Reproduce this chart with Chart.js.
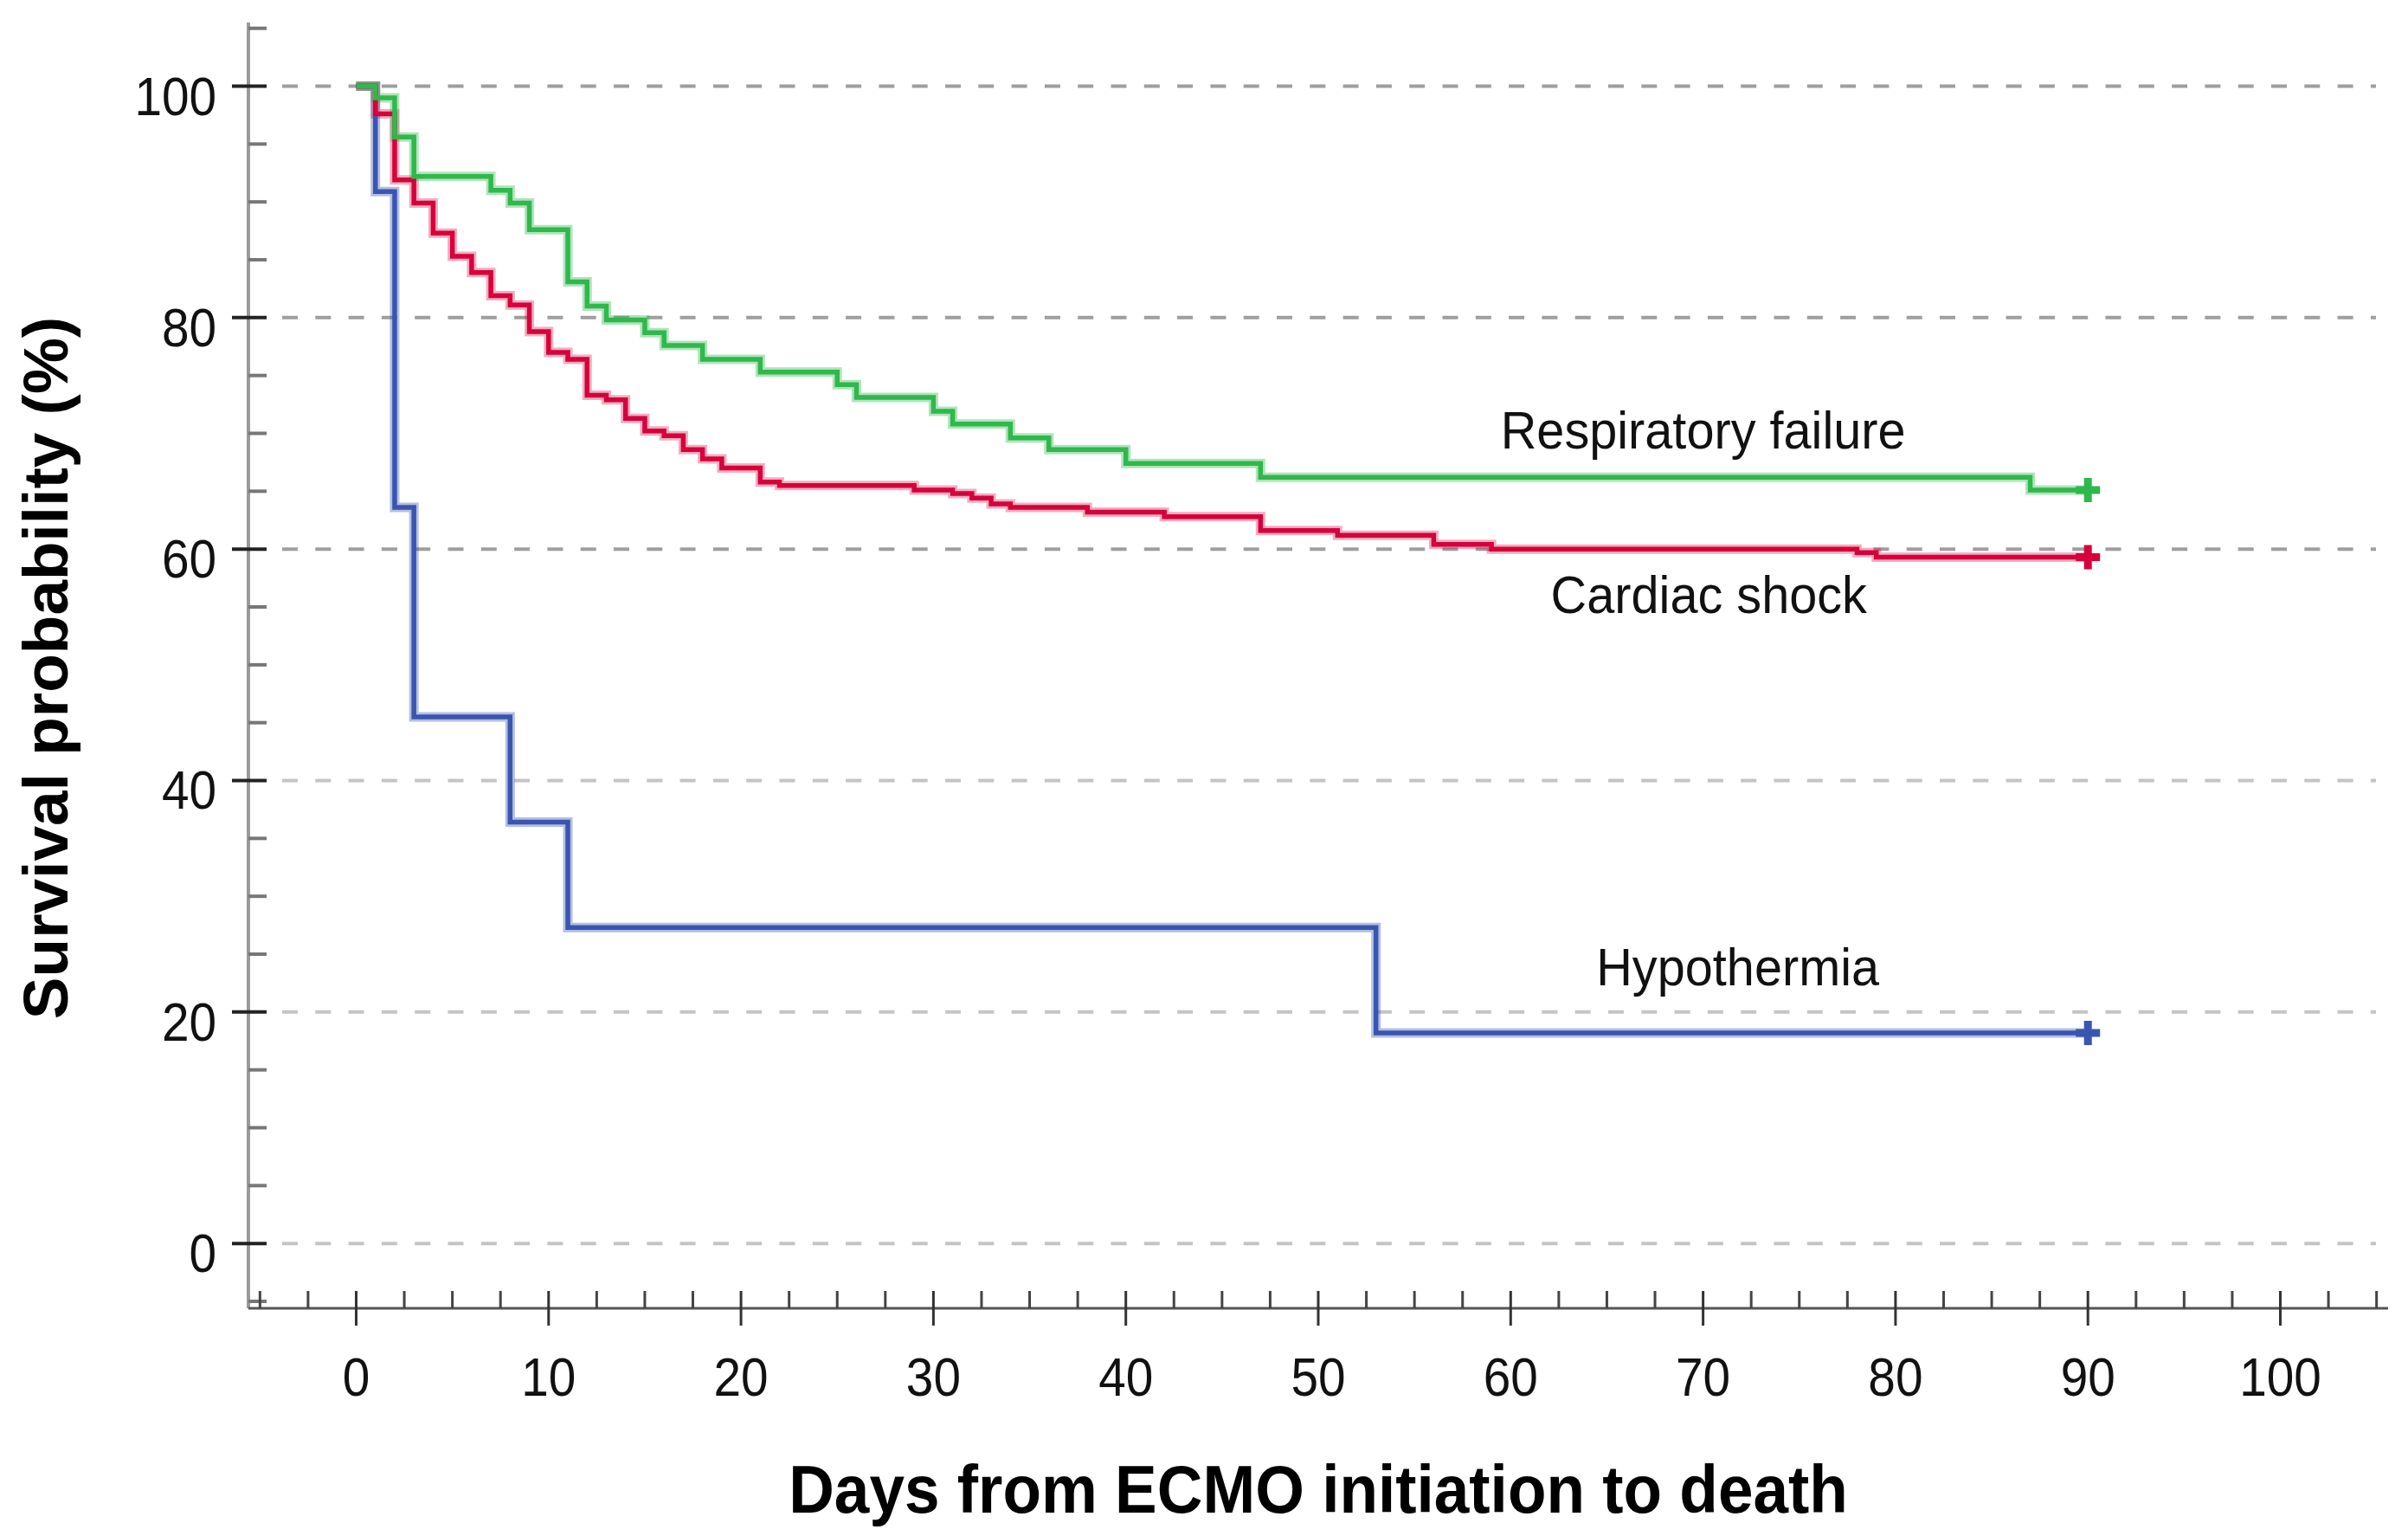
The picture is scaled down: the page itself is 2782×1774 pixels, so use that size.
<!DOCTYPE html>
<html>
<head>
<meta charset="utf-8">
<script src="https://cdn.jsdelivr.net/npm/chart.js@4.4.1/dist/chart.umd.min.js"></script>
<style>
  html, body { margin: 0; padding: 0; background: #fff; }
  canvas { display: block; }
</style>
</head>
<body>
<canvas id="km" width="2782" height="1774"></canvas>
<script>
// Kaplan-Meier steps (day, survival %)
const respDays = [0, 1, 2, 3, 7, 8, 9, 11, 12, 13, 15, 16, 18, 21, 25, 26, 30, 31, 34, 36, 40, 47, 87, 90];
const respSurv = [100, 99.0, 95.6, 92.2, 91.0, 89.9, 87.6, 83.1, 81.0, 79.8, 78.7, 77.6, 76.4, 75.3, 74.2, 73.1, 71.9, 70.8, 69.6, 68.6, 67.4, 66.2, 65.1, 65.1];

const cardDays = [0, 1, 2, 3, 4, 5, 6, 7, 8, 9, 10, 11, 12, 13, 14, 15, 16, 17, 18, 19, 21, 22, 29, 31, 32, 33, 34, 38, 42, 47, 51, 56, 59, 78, 79, 90];
const cardSurv = [100, 97.6, 91.9, 89.9, 87.3, 85.3, 83.9, 81.9, 81.1, 78.8, 77.0, 76.4, 73.3, 72.9, 71.3, 70.2, 69.8, 68.6, 67.8, 67.0, 65.8, 65.5, 65.1, 64.8, 64.4, 63.9, 63.6, 63.2, 62.8, 61.6, 61.2, 60.4, 60.0, 59.7, 59.3, 59.3];

const hypoDays = [0, 1, 2, 3, 8, 11, 53, 90];
const hypoSurv = [100, 90.9, 63.6, 45.5, 36.4, 27.3, 18.2, 18.2];

const groupNames = ['Respiratory failure', 'Cardiac shock', 'Hypothermia'];

const xTicks = [0, 10, 20, 30, 40, 50, 60, 70, 80, 90, 100];
const yTicks = [0, 20, 40, 60, 80, 100];
const xMinor = [-5, -2.5, 2.5, 5, 7.5, 12.5, 15, 17.5, 22.5, 25, 27.5, 32.5, 35, 37.5, 42.5, 45, 47.5, 52.5, 55, 57.5, 62.5, 65, 67.5, 72.5, 75, 77.5, 82.5, 85, 87.5, 92.5, 95, 97.5, 102.5, 105];
const yMinor = [-5, 5, 10, 15, 25, 30, 35, 45, 50, 55, 65, 70, 75, 85, 90, 95, 105];

const xTitle = 'Days from ECMO initiation to death';
const yTitle = 'Survival probability (%)';

const colors = ['#2fb84b', '#d6003b', '#3a55b0'];
const halos  = ['rgba(47,184,75,0.38)', 'rgba(214,0,59,0.32)', 'rgba(58,85,176,0.38)'];
// where the group names sit, in data units (centre x, baseline y)
const labelPos = [[70, 68.7], [70.3, 54.5], [71.8, 22.3]];

const pts = (xs, ys) => xs.map((x, i) => ({ x, y: ys[i] }));
const lastOnly = (n, r) => (c) => c.dataIndex === n - 1 ? r : 0;

const mkSet = (i, xs, ys) => ({
  label: groupNames[i],
  data: pts(xs, ys),
  order: 0,
  borderColor: colors[i],
  backgroundColor: colors[i],
  borderWidth: 5.5,
  stepped: 'before',
  fill: false,
  borderJoinStyle: 'miter',
  borderCapStyle: 'butt',
  pointStyle: 'cross',
  pointRadius: lastOnly(xs.length, 14),
  pointHoverRadius: lastOnly(xs.length, 14),
  pointBorderWidth: 9,
  pointBorderColor: colors[i],
});

// soft edge under each curve, like the anti-aliased export
const mkHalo = (i, xs, ys) => ({
  label: groupNames[i] + ' halo',
  data: pts(xs, ys),
  order: 1,
  borderColor: halos[i],
  borderWidth: 11,
  stepped: 'before',
  fill: false,
  borderJoinStyle: 'miter',
  borderCapStyle: 'butt',
  pointRadius: 0,
  pointHoverRadius: 0,
});

const txt = (ctx, s, x, y, font, align, sx = 1, color = '#111') => {
  ctx.save();
  ctx.translate(x, y);
  ctx.scale(sx, 1);
  ctx.font = font;
  ctx.fillStyle = color;
  ctx.textAlign = align;
  ctx.textBaseline = 'alphabetic';
  ctx.fillText(s, 0, 0);
  ctx.restore();
};

const line = (ctx, x1, y1, x2, y2, color, w) => {
  ctx.beginPath();
  ctx.strokeStyle = color;
  ctx.lineWidth = w;
  ctx.moveTo(x1, y1);
  ctx.lineTo(x2, y2);
  ctx.stroke();
};

const axesPlugin = {
  id: 'spssAxes',
  beforeDatasetsDraw(chart) {
    const { ctx, chartArea: a, scales: { x, y } } = chart;
    ctx.save();
    // dashed grid
    ctx.setLineDash([18, 20.3]);
    yTicks.forEach(v => {
      const py = y.getPixelForValue(v);
      line(ctx, a.left + 39, py, a.right - 14, py, v >= 60 ? '#9e9e9e' : '#c4c4c4', 4);
    });
    ctx.setLineDash([]);
    // axis lines
    line(ctx, a.left, a.top, a.left, a.bottom, '#9a9a9a', 4);
    line(ctx, a.left, a.bottom, a.right, a.bottom, '#555', 3);
    // y ticks
    yMinor.forEach(v => {
      const py = y.getPixelForValue(v);
      line(ctx, a.left, py, a.left + 21, py, '#777', 4);
    });
    yTicks.forEach(v => {
      const py = y.getPixelForValue(v);
      line(ctx, a.left - 19, py, a.left + 21, py, '#222', 4);
    });
    // x ticks
    xMinor.forEach(v => {
      const px = x.getPixelForValue(v);
      line(ctx, px, a.bottom - 20, px, a.bottom, '#444', 3);
    });
    xTicks.forEach(v => {
      const px = x.getPixelForValue(v);
      line(ctx, px, a.bottom - 20, px, a.bottom + 20, '#333', 3);
    });
    ctx.restore();
  },
  afterDraw(chart) {
    const { ctx, chartArea: a, scales: { x, y } } = chart;
    const f = '63px "Liberation Sans", Arial, sans-serif';
    yTicks.forEach(v => txt(ctx, String(v), 250, y.getPixelForValue(v) + 33, f, 'right', 0.9));
    xTicks.forEach(v => txt(ctx, String(v), x.getPixelForValue(v), 1612, f, 'center', 0.9));

    const lf = '62px "Liberation Sans", Arial, sans-serif';
    groupNames.forEach((n, i) => {
      const [lx, ly] = labelPos[i];
      txt(ctx, n, x.getPixelForValue(lx), y.getPixelForValue(ly), lf, 'center', 0.93);
    });

    txt(ctx, xTitle, (a.left + a.right) / 2, 1747, 'bold 78px "Liberation Sans", Arial, sans-serif', 'center', 0.935, '#000');

    ctx.save();
    ctx.translate(78, (a.top + a.bottom) / 2 + 3);
    ctx.rotate(-Math.PI / 2);
    ctx.font = 'bold 73px "Liberation Sans", Arial, sans-serif';
    ctx.fillStyle = '#000';
    ctx.textAlign = 'center';
    ctx.textBaseline = 'alphabetic';
    ctx.fillText(yTitle, 0, 0);
    ctx.restore();
  }
};

new Chart(document.getElementById('km'), {
  type: 'line',
  data: {
    datasets: [
      mkSet(0, respDays, respSurv),
      mkSet(1, cardDays, cardSurv),
      mkSet(2, hypoDays, hypoSurv),
      mkHalo(0, respDays, respSurv),
      mkHalo(1, cardDays, cardSurv),
      mkHalo(2, hypoDays, hypoSurv),
    ]
  },
  options: {
    responsive: false,
    animation: false,
    devicePixelRatio: 1,
    events: [],
    layout: { padding: { left: 287, top: 26, right: 20, bottom: 263 } },
    plugins: { legend: { display: false }, tooltip: { enabled: false } },
    scales: {
      x: { type: 'linear', display: false, min: -5.6, max: 105.6 },
      y: { type: 'linear', display: false, min: -5.6, max: 105.5 }
    }
  },
  plugins: [axesPlugin]
});
</script>
</body>
</html>
